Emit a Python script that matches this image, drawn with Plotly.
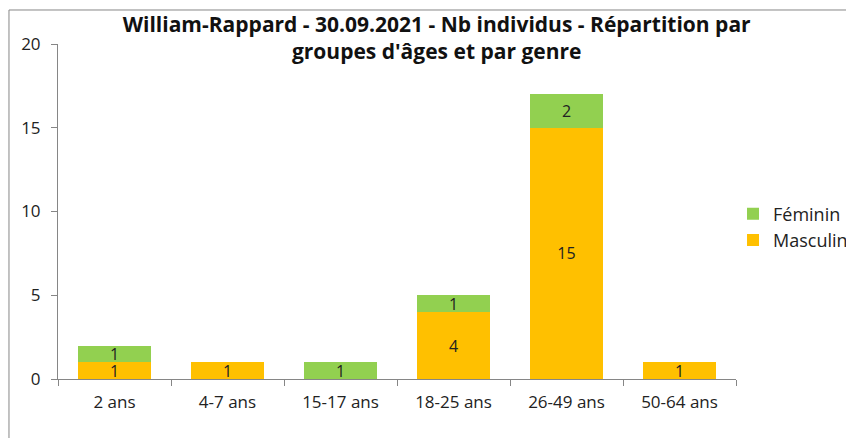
import plotly.graph_objects as go

categories = ["2 ans", "4-7 ans", "15-17 ans", "18-25 ans", "26-49 ans", "50-64 ans"]
masculin = [1, 1, 0, 4, 15, 1]
feminin = [1, 0, 1, 1, 2, 0]
y_ticks = [0, 5, 10, 15, 20]

FONT = "Open Sans"
TXT = "#222222"

def labels(vals):
    return [str(v) if v else "" for v in vals]

fig = go.Figure()
fig.add_trace(go.Bar(
    name="Masculin", x=categories, y=masculin, text=labels(masculin), legendgroup="m",
    marker=dict(color="#FFC000", line=dict(width=0)),
    textposition="inside", insidetextanchor="middle", constraintext="none", textangle=0,
    textfont=dict(family=FONT, size=16, color=TXT),
))
fig.add_trace(go.Bar(
    name="Féminin", x=categories, y=feminin, text=labels(feminin), legendgroup="f",
    marker=dict(color="#92D050", line=dict(width=0)),
    textposition="inside", insidetextanchor="middle", constraintext="none", textangle=0,
    textfont=dict(family=FONT, size=16, color=TXT),
))

fig.update_layout(
    width=854, height=438,
    barmode="stack", bargap=0.355,
    paper_bgcolor="white", plot_bgcolor="white",
    margin=dict(l=50, r=126, t=36, b=67, autoexpand=False),
    title=dict(
        text="<b>William-Rappard - 30.09.2021 - Nb individus - Répartition par<br>groupes d'âges et par genre</b>",
        x=0.502, xanchor="center", y=0.946, yanchor="top", yref="container",
        font=dict(family=FONT, size=21, color="#111111"),
    ),
    legend=dict(
        x=0.9956, xanchor="left", y=0.4537, yanchor="middle",
        traceorder="reversed", font=dict(family=FONT, size=18, color=TXT),
        itemwidth=30, tracegroupgap=4, bgcolor="rgba(0,0,0,0)",
    ),
    xaxis=dict(
        showline=True, linecolor="#868686", linewidth=1,
        ticks="outside", ticklen=6, tickcolor="#868686", tickson="boundaries",
        ticklabelstandoff=8,
        showgrid=False, tickfont=dict(family=FONT, size=17, color=TXT),
    ),
    yaxis=dict(
        range=[0, 20], tickvals=y_ticks, showline=True, linecolor="#868686", linewidth=1,
        ticks="outside", ticklen=6, tickcolor="#868686", showgrid=False, zeroline=False,
        ticklabelstandoff=7,
        tickfont=dict(family=FONT, size=17, color=TXT),
    ),
    shapes=[
        dict(type="line", xref="paper", yref="paper", x0=-0.0723, x1=-0.0723, y0=1.1015, y1=-0.3,
             line=dict(color="#868686", width=1)),
        dict(type="line", xref="paper", yref="paper", x0=-0.0723, x1=1.2, y0=1.1015, y1=1.1015,
             line=dict(color="#868686", width=1)),
    ],
)

fig.write_html("out.html")
